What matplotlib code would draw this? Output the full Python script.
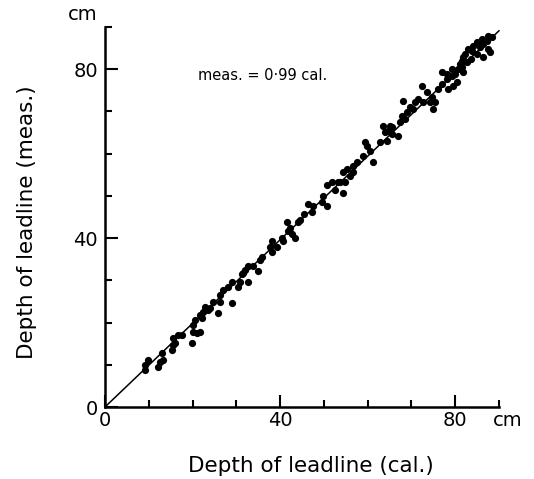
import numpy as np
import matplotlib
matplotlib.use('Agg')
from matplotlib import pyplot as plt

# depth of leadline, calculated (x) vs measured (y), cm
x_cal = [9.1, 9.9, 9.2, 12.6, 13.3, 12.1, 13.0, 15.2, 15.6, 16.0, 16.7, 15.6, 17.5, 19.8,
         20.1, 20.6, 20.1, 21.0, 21.7, 21.7, 22.1, 22.9, 24.0, 25.8, 26.3,
         22.4, 23.5, 24.7, 26.3, 27.0, 29.0, 28.1, 29.0, 30.4, 30.9, 32.7, 31.5, 32.0, 32.7,
         31.3, 33.8, 35.0, 35.4, 35.9, 37.7, 38.2, 39.3, 40.7, 38.2,
         40.5, 41.6, 42.3, 42.7, 41.8, 44.1, 43.4, 44.6, 45.5, 46.4, 47.5, 47.3, 49.6, 49.8,
         50.7, 50.7, 51.9, 52.6, 53.7, 54.4,
         53.3, 54.9, 54.4, 55.3, 56.0, 56.7, 57.6, 56.7, 59.0, 59.9, 59.4, 60.6, 61.3, 62.9,
         64.0, 64.5, 65.1, 65.6, 67.4, 67.0, 63.6, 64.7, 65.6,
         68.1, 67.9, 69.0, 68.6, 69.7, 70.9, 70.4, 71.5, 72.7, 72.5, 73.6, 74.3, 74.7, 75.0,
         75.4, 76.1, 77.0, 77.0, 78.2, 78.4, 79.3, 79.5, 80.5, 80.0, 80.7, 81.8, 82.7, 81.6,
         81.1, 81.8, 81.6, 82.3, 83.0, 83.9, 84.1, 85.0, 85.7, 86.4, 86.2, 87.3, 87.5, 88.5,
         87.5, 88.0, 86.4, 85.0, 83.5, 78.2, 79.3]
y_meas = [8.8, 11.2, 10.0, 10.7, 11.2, 9.5, 12.8, 13.5, 16.4, 15.2, 17.1, 14.7, 17.1, 15.2,
          19.5, 20.7, 17.8, 17.6, 17.8, 21.9, 21.1, 23.8, 23.5, 22.3, 24.9,
          22.6, 23.0, 24.9, 26.6, 27.8, 24.7, 28.5, 29.5, 28.5, 29.5, 29.5, 31.8, 32.5, 33.3,
          31.4, 33.3, 32.1, 34.9, 35.6, 38.0, 39.2, 37.8, 39.2, 36.6,
          40.1, 43.7, 42.5, 40.9, 41.6, 43.7, 40.1, 44.4, 45.8, 48.0, 47.5, 46.1, 48.5, 49.9,
          47.5, 52.7, 53.2, 51.5, 53.2, 50.8,
          53.4, 53.2, 55.6, 56.3, 54.6, 57.0, 58.0, 55.6, 59.4, 61.8, 62.7, 60.6, 58.0, 62.7,
          65.1, 62.9, 66.5, 64.6, 67.5, 64.1, 66.6, 65.3, 66.3,
          72.4, 68.9, 69.8, 68.2, 71.0, 72.2, 70.5, 72.9, 72.2, 76.0, 74.6, 72.2, 73.4, 70.5,
          72.2, 75.3, 76.5, 79.3, 77.7, 75.3, 78.4, 76.0, 77.0, 78.9, 80.0, 79.3, 81.7, 81.9,
          81.2, 82.9, 80.5, 83.6, 84.8, 84.3, 85.5, 86.5, 85.3, 86.0, 87.2, 86.7, 87.9, 87.6,
          84.8, 84.1, 82.9, 83.5, 82.5, 78.9, 80.0]

slope = 0.99
line_x = [0, 90]

fig = plt.figure(figsize=(5.34, 4.79), dpi=100)
ax = fig.add_axes([0.1966, 0.1503, 0.7378, 0.7933])

ax.scatter(x_cal, y_meas, s=27, color='black', zorder=3, linewidths=0)
ax.plot(line_x, [slope * v for v in line_x], color='black', lw=1.1, clip_on=False)

ax.set_xlim(0, 90)
ax.set_ylim(0, 90)
for s in ['top', 'right']:
    ax.spines[s].set_visible(False)
for s in ['left', 'bottom']:
    ax.spines[s].set_linewidth(1.8)

ax.set_xticks([0, 40, 80])
ax.set_yticks([0, 40, 80])
ax.set_xticks(np.arange(10, 91, 10), minor=True)
ax.set_yticks(np.arange(10, 91, 10), minor=True)
ax.tick_params(which='major', direction='in', length=9, width=1.5, labelsize=14, color='black')
ax.tick_params(which='minor', direction='in', length=5, width=1.5)
ax.tick_params(axis='x', which='major', pad=3)
ax.tick_params(axis='y', which='major', pad=5)

ax.text(36, 78.4, 'meas. = 0·99 cal.', fontsize=10.5, ha='center', va='center')
fig.text(83 / 534, 1 - 15 / 479, 'cm', fontsize=14, ha='center', va='center')
fig.text(508 / 534, 1 - 420 / 479, 'cm', fontsize=14, ha='center', va='center')

fig.text(311 / 534, 1 - 466 / 479, 'Depth of leadline (cal.)', fontsize=15.5,
         ha='center', va='center')
fig.text(27 / 534, 1 - 222 / 479, 'Depth of leadline (meas.)', fontsize=15.5,
         ha='center', va='center', rotation=90)

fig.savefig('out.png', dpi=100)
